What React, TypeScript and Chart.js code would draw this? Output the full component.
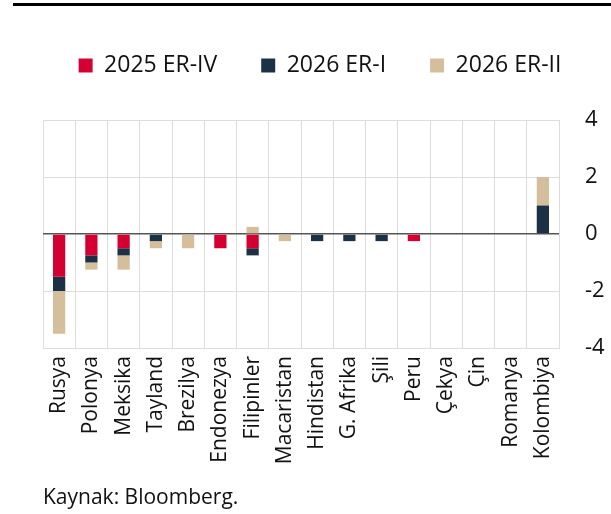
import React, { useEffect, useRef } from "react";
import { Chart, registerables } from "chart.js";

Chart.register(...registerables);

const categories = [
  "Rusya", "Polonya", "Meksika", "Tayland", "Brezilya", "Endonezya", "Filipinler",
  "Macaristan", "Hindistan", "G. Afrika", "Şili", "Peru", "Çekya", "Çin", "Romanya", "Kolombiya",
];
const er2025IV = [-1.5, -0.75, -0.5, 0, 0, -0.5, -0.5, 0, 0, 0, 0, -0.25, 0, 0, 0, 0];
const er2026I = [-0.5, -0.25, -0.25, -0.25, 0, 0, -0.25, 0, -0.25, -0.25, -0.25, 0, 0, 0, 0, 1];
const er2026II = [-1.5, -0.25, -0.5, -0.25, -0.5, 0, 0.25, -0.25, 0, 0, 0, 0, 0, 0, 0, 1];
const seriesNames = ["2025 ER-IV", "2026 ER-I", "2026 ER-II"];
const yTicks = [-4, -2, 0, 2, 4];

const FONT = "'Open Sans', 'Noto Sans', sans-serif";

const legendGap = {
  id: "legendGap",
  beforeInit(chart: any) {
    const legend = chart.legend;
    if (!legend) return;
    const orig = legend.fit;
    legend.fit = function () {
      orig.call(this);
      this.height += 33;
    };
  },
};

export default function App() {
  const ref = useRef<HTMLCanvasElement | null>(null);

  useEffect(() => {
    document.body.style.margin = "0";
    const canvas = ref.current;
    if (!canvas) return;
    const chart = new Chart(canvas, {
      type: "bar",
      data: {
        labels: categories,
        datasets: [
          { label: seriesNames[0], data: er2025IV, backgroundColor: "#D50032", yAxisID: "y", xAxisID: "x" },
          { label: seriesNames[1], data: er2026I, backgroundColor: "#1C3046", yAxisID: "y", xAxisID: "x" },
          { label: seriesNames[2], data: er2026II, backgroundColor: "#D5BE9C", yAxisID: "y", xAxisID: "x" },
        ],
      },
      options: {
        animation: false,
        responsive: false,
        maintainAspectRatio: false,
        layout: { padding: { left: 29, right: 0, top: 10, bottom: 0 } },
        datasets: { bar: { barPercentage: 0.38, categoryPercentage: 1 } },
        plugins: {
          legend: {
            position: "top",
            labels: {
              font: { family: FONT, size: 23 },
              color: "#111",
              boxWidth: 14,
              boxHeight: 14,
              padding: 44,
            },
          },
          tooltip: { enabled: false },
        },
        scales: {
          x: {
            stacked: true,
            grid: { color: "#dcdcdc", lineWidth: 1, offset: true, drawTicks: false },
            border: { color: "#dcdcdc" },
            ticks: {
              font: { family: FONT, size: 21 },
              color: "#111",
              minRotation: 90,
              maxRotation: 90,
              autoSkip: false,
              padding: 8,
            },
            afterFit: (axis: any) => { axis.height = 142; },
          },
          y: {
            stacked: true,
            position: "right",
            min: -4,
            max: 4,
            afterBuildTicks: (axis: any) => { axis.ticks = yTicks.map((v) => ({ value: v })); },
            grid: {
              drawTicks: false,
              color: (ctx: any) => (ctx.tick && ctx.tick.value === 0 ? "#555" : "#dcdcdc"),
              lineWidth: (ctx: any) => (ctx.tick && ctx.tick.value === 0 ? 1.5 : 1),
            },
            border: { color: "#dcdcdc" },
            ticks: {
              font: { family: FONT, size: 22 },
              color: "#111",
              padding: 26,
            },
            afterFit: (axis: any) => { axis.width = 52; },
          },
          yl: {
            type: "linear",
            position: "left",
            display: true,
            min: -4,
            max: 4,
            grid: { display: false, drawTicks: false },
            border: { display: false },
            ticks: { display: false },
            afterFit: (axis: any) => { axis.width = 14; },
          },
        },
      },
      plugins: [legendGap],
    });
    return () => chart.destroy();
  }, []);

  return (
    <div style={{ position: "relative", width: 611, height: 514, background: "#fff", fontFamily: FONT }}>
      <div style={{ position: "absolute", left: 13, top: 3, width: 598, height: 3, background: "#000" }} />
      <canvas ref={ref} width={611} height={490} style={{ position: "absolute", left: 0, top: 0, width: 611, height: 490 }} />
      <div style={{ position: "absolute", left: 43, top: 482, fontSize: 21, color: "#111", whiteSpace: "nowrap" }}>
        Kaynak: Bloomberg.
      </div>
    </div>
  );
}
